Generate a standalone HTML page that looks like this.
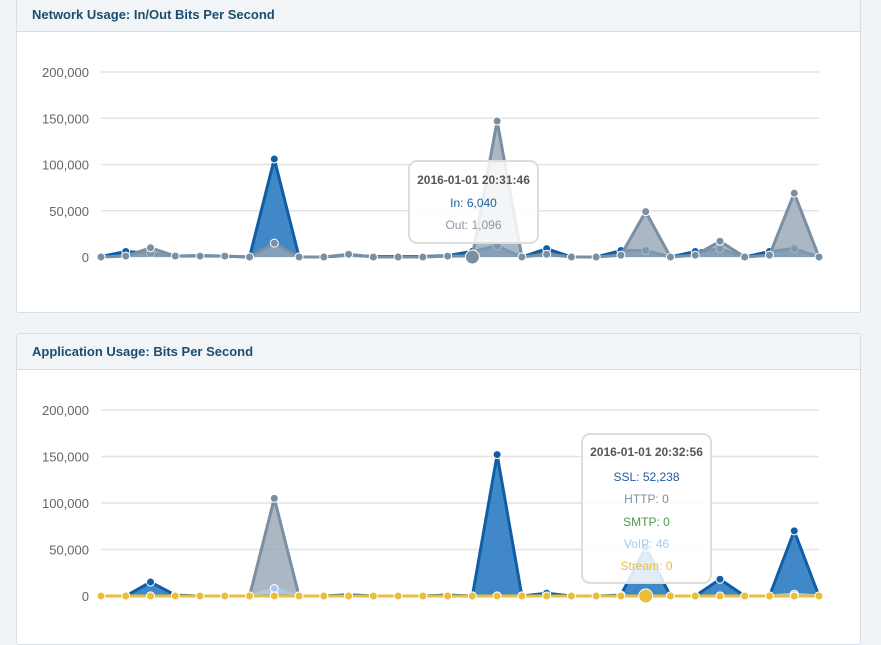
<!DOCTYPE html>
<html><head><meta charset="utf-8">
<style>
html,body{margin:0;padding:0;width:881px;height:625px;overflow:hidden;background:#f1f4f7;font-family:"Liberation Sans",sans-serif;}
.panel{position:absolute;left:16px;width:843px;background:#fff;border:1px solid #d6dee5;border-radius:3px;overflow:hidden;}
.hdr{background:#f2f5f8;border-bottom:1px solid #d6dee5;color:#1c4d6e;font-weight:bold;font-size:13px;padding-left:15px;box-sizing:border-box;}
svg{position:absolute;left:0;top:0;}
</style></head>
<body>
<div class="panel" style="top:-10px;height:321px;">
  <div class="hdr" style="height:41px;line-height:47px;">Network Usage: In/Out Bits Per Second</div>
</div>
<div class="panel" style="top:333px;height:310px;">
  <div class="hdr" style="height:36px;line-height:36px;">Application Usage: Bits Per Second</div>
</div>
<svg id="chart" width="881" height="625"></svg>
<script>
const ticks = [0, 50000, 100000, 150000, 200000];
const tickLabels = ["0", "50,000", "100,000", "150,000", "200,000"];
const netIn = [500,6000,4000,1000,1500,1000,0,106000,0,0,2000,500,500,500,1500,6040,12000,0,9000,0,0,7000,7000,0,6000,9000,0,6000,9000,0];
const netOut = [0,1000,10000,1000,1000,1000,0,15000,0,0,3000,0,0,0,1000,1096,147000,0,3000,0,0,2000,49000,0,2000,17000,0,2000,69000,0];
const appSSL = [0,0,15000,1000,0,0,0,1000,0,0,1000,0,0,0,1000,0,152000,0,3000,0,0,1000,52238,0,0,18000,0,0,70000,0];
const appHTTP = [0,0,0,0,0,0,0,105000,0,0,1500,0,0,0,1000,0,0,0,0,0,0,0,0,0,0,0,0,0,0,0];
const appSMTP = [0,0,0,0,0,0,0,0,0,0,0,0,0,0,0,0,0,0,0,0,0,0,0,0,0,0,0,0,0,0];
const appVoIP = [0,0,0,0,0,0,0,8000,0,0,0,0,0,0,0,0,0,0,0,0,0,0,46,0,0,0,0,0,2000,0];
const appStream = [0,0,0,0,0,0,0,0,0,0,0,0,0,0,0,0,0,0,0,0,0,0,0,0,0,0,0,0,0,0];

const svg = document.getElementById('chart');
const NS = 'http://www.w3.org/2000/svg';
function mk(tag, attrs, parent){const e=document.createElementNS(NS,tag);for(const k in attrs)e.setAttribute(k,attrs[k]);(parent||svg).appendChild(e);return e;}
function xScale(i, n){return 101 + i*(819-101)/(n-1);}
function makeY(base, top){return v => base - v/200000*(base-top);}

function axis(y, name){
  ticks.forEach((t,i)=>{
    const l=mk('line',{x1:101,x2:819,y1:y(t),y2:y(t),stroke:'#e3e3e3','stroke-width':i===0?1:1.5});
    
    
    const tx=mk('text',{x:89,y:y(t)+5,'text-anchor':'end','font-size':'13','fill':'#666','font-family':'Liberation Sans, sans-serif'});
    tx.textContent=tickLabels[i];
    
    
  });
}
function series(vals, y, line, fill, dot, name, r){
  const n=vals.length;
  let d='M'+xScale(0,n)+','+y(0);
  vals.forEach((v,i)=>{d+=' L'+xScale(i,n)+','+y(v);});
  d+=' L'+xScale(n-1,n)+','+y(0)+' Z';
  const a=mk('path',{d:d,fill:fill,stroke:'none'});
  
  
  let ld='';
  vals.forEach((v,i)=>{ld+=(i?' L':'M')+xScale(i,n)+','+y(v);});
  const p=mk('path',{d:ld,fill:'none',stroke:line,'stroke-width':3,'stroke-linejoin':'round'});
  
  
  vals.forEach((v,i)=>{
    const c=mk('circle',{cx:xScale(i,n),cy:y(v),r:r||4,fill:dot,stroke:'#fff','stroke-width':1});
    
    
  });
}
// top chart
const y1=makeY(257,72);
axis(y1,'network');
series(netIn,y1,'#0f5ea6','rgba(31,115,190,0.85)','#0f5ea6','in');
series(netOut,y1,'#7b8fa2','rgba(150,166,180,0.8)','#7b8fa2','out');
const h1=mk('circle',{cx:xScale(15,30),cy:y1(0),r:7,fill:'#7b8fa2',stroke:'#fff','stroke-width':1});


// bottom chart
const y2=makeY(596,410);
axis(y2,'application');
series(appHTTP,y2,'#7b8fa2','rgba(150,166,180,0.8)','#7b8fa2','http');
series(appSSL,y2,'#0f5ea6','rgba(31,115,190,0.85)','#0f5ea6','ssl');
series(appVoIP,y2,'#a8c8ea','rgba(190,215,240,0.6)','#a8c8ea','voip');
series(appSMTP,y2,'#4a9a4a','rgba(74,154,74,0.6)','#4a9a4a','smtp');
series(appStream,y2,'#e8be3a','rgba(232,190,58,0.6)','#e8be3a','stream');
const h2=mk('circle',{cx:xScale(22,30),cy:y2(0),r:7,fill:'#e8be3a',stroke:'#fff','stroke-width':1});



function tooltip(x,y,w,h,lines,name){
  const g=mk('g',{});
  
  
  mk('rect',{x:x,y:y,width:w,height:h,rx:8,fill:'rgba(255,255,255,0.85)',stroke:'#dddddd','stroke-width':2},g);
  lines.forEach((l,i)=>{
    const t=mk('text',{x:x+w/2,y:l[2],'text-anchor':'middle','font-size':'12','fill':l[1],'font-weight':i===0?'bold':'normal','font-family':'Liberation Sans, sans-serif'},g);
    t.textContent=l[0];
  });
}
tooltip(409,161,129,82,[["2016-01-01 20:31:46","#555",184],["In: 6,040","#1d5fa0",207],["Out: 1,096","#8a97a3",229]],'network-tooltip');
tooltip(582,434,129,149,[["2016-01-01 20:32:56","#555",456],["SSL: 52,238","#1d5fa0",481],["HTTP: 0","#7b8fa2",503],["SMTP: 0","#4a9a4a",526],["VoIP: 46","#a8c8ea",548],["Stream: 0","#e8be3a",570]],'application-tooltip');
</script>
</body></html>
